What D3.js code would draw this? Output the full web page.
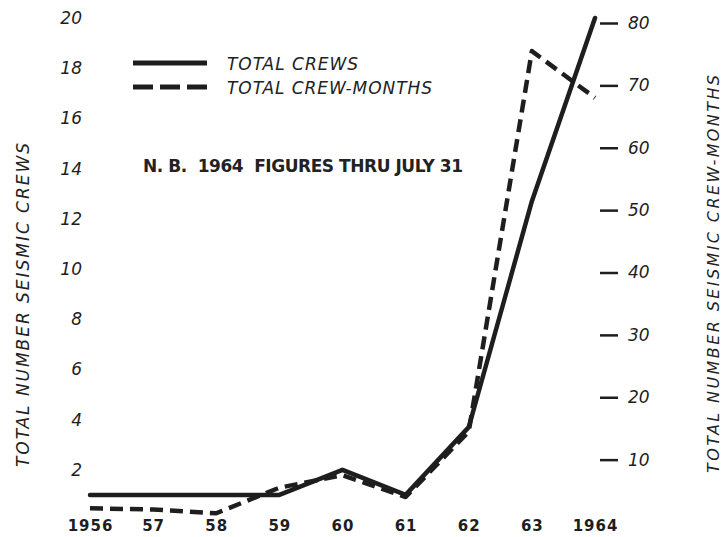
<!DOCTYPE html>
<html>
<head>
<meta charset="utf-8">
<script src="https://cdn.jsdelivr.net/npm/d3@7"></script>
<style>
  html, body { margin: 0; padding: 0; background: #fff; }
  svg { display: block; }
  text { fill: #222; font-family: "DejaVu Sans", sans-serif; }
</style>
</head>
<body>
<svg id="chart" width="723" height="537"></svg>
<script>
// Seismic crew activity, 1956–1964
const years = [1956, 1957, 1958, 1959, 1960, 1961, 1962, 1963, 1964];
const yearLabels = ["1956", "57", "58", "59", "60", "61", "62", "63", "1964"];
const totalCrews = [1, 1, 1, 1, 2, 1, 3.7, 12.7, 20];
const totalCrewMonths = [2.2, 2.0, 1.4, 5.5, 7.5, 4, 14.5, 75.5, 68];
const crewTicks = [2, 4, 6, 8, 10, 12, 14, 16, 18, 20];
const crewMonthTicks = [10, 20, 30, 40, 50, 60, 70, 80];

const svg = d3.select("#chart");
const ink = "#1e1e1e";

const x = d3.scaleLinear().domain([1956, 1964]).range([90, 595]);
const yL = d3.scaleLinear().domain([0, 20]).range([520, 18]);
const yR = d3.scaleLinear().domain([0, 80]).range([522, 23]);

// Left axis: crews (labels only)
const leftAxis = svg.append("g")
  .attr("transform", "translate(84,0)")
  .call(d3.axisLeft(yL).tickValues(crewTicks).tickSize(0).tickPadding(2));
leftAxis.select(".domain").remove();
leftAxis.selectAll("text")
  .attr("font-family", "DejaVu Sans, sans-serif")
  .style("font-style", "italic")
  .style("font-size", "17px")
  .style("fill", ink);

// Right axis: crew-months (short dashes with labels)
const rightAxis = svg.append("g")
  .attr("transform", "translate(600,0)")
  .call(d3.axisRight(yR).tickValues(crewMonthTicks).tickSize(18).tickPadding(10));
rightAxis.select(".domain").remove();
rightAxis.selectAll("line").attr("stroke", ink).attr("stroke-width", 2.5);
rightAxis.selectAll("text")
  .attr("font-family", "DejaVu Sans, sans-serif")
  .style("font-style", "italic")
  .style("font-size", "17px")
  .style("fill", ink);

// Bottom axis: years
const bottomAxis = svg.append("g")
  .attr("transform", "translate(0,516)")
  .call(d3.axisBottom(x).tickValues(years).tickSize(0).tickPadding(4)
    .tickFormat((d, i) => yearLabels[i]));
bottomAxis.select(".domain").remove();
bottomAxis.selectAll("text")
  .attr("font-family", "DejaVu Sans, sans-serif")
  .style("font-weight", "bold")
  .style("font-size", "15px")
  .style("letter-spacing", "1px")
  .style("fill", ink);

// Axis titles
svg.append("text")
  .attr("transform", "translate(29,305) rotate(-90)")
  .attr("text-anchor", "middle")
  .attr("textLength", 324).attr("lengthAdjust", "spacing")
  .style("font-style", "italic").style("font-size", "17px")
  .text("TOTAL NUMBER SEISMIC CREWS");

svg.append("text")
  .attr("transform", "translate(719,274) rotate(-90)")
  .attr("text-anchor", "middle")
  .attr("textLength", 398).attr("lengthAdjust", "spacing")
  .style("font-style", "italic").style("font-size", "16px")
  .text("TOTAL NUMBER SEISMIC CREW-MONTHS");

// Data lines
const crewLine = d3.line().x((d, i) => x(years[i])).y(d => yL(d));
const monthLine = d3.line().x((d, i) => x(years[i])).y(d => yR(d));

svg.append("path")
  .datum(totalCrewMonths)
  .attr("d", monthLine)
  .attr("fill", "none")
  .attr("stroke", ink)
  .attr("stroke-width", 4.5)
  .attr("stroke-dasharray", "13,7")
  .attr("stroke-linejoin", "round");

svg.append("path")
  .datum(totalCrews)
  .attr("d", crewLine)
  .attr("fill", "none")
  .attr("stroke", ink)
  .attr("stroke-width", 4.5)
  .attr("stroke-linejoin", "round")
  .attr("stroke-linecap", "round");

// Legend
const legend = svg.append("g");
legend.append("line")
  .attr("x1", 133).attr("x2", 207).attr("y1", 63).attr("y2", 63)
  .attr("stroke", ink).attr("stroke-width", 5);
legend.append("line")
  .attr("x1", 133).attr("x2", 207).attr("y1", 87).attr("y2", 87)
  .attr("stroke", ink).attr("stroke-width", 5)
  .attr("stroke-dasharray", "20,7");
legend.append("text")
  .attr("x", 227).attr("y", 70)
  .attr("textLength", 131).attr("lengthAdjust", "spacing")
  .style("font-style", "italic").style("font-size", "17px")
  .text("TOTAL CREWS");
legend.append("text")
  .attr("x", 227).attr("y", 94)
  .attr("textLength", 205).attr("lengthAdjust", "spacing")
  .style("font-style", "italic").style("font-size", "17px")
  .text("TOTAL CREW-MONTHS");

// Note
svg.append("text")
  .attr("x", 143).attr("y", 172)
  .attr("textLength", 320).attr("lengthAdjust", "spacing")
  .style("font-weight", "bold").style("font-size", "17px")
  .style("white-space", "pre")
  .text("N. B.  1964  FIGURES THRU JULY 31");
</script>
</body>
</html>
